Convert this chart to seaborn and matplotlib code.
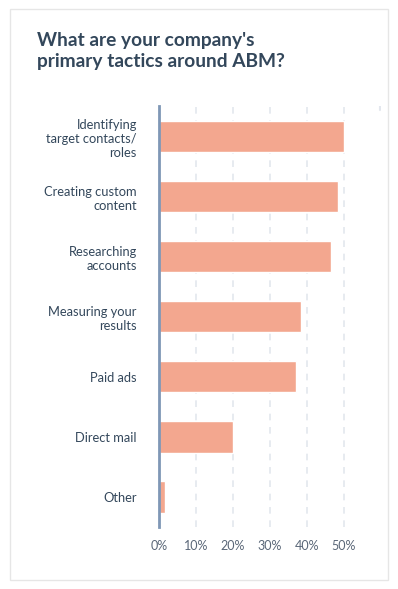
import pandas as pd
import matplotlib
matplotlib.use('Agg')
import matplotlib.pyplot as plt
import seaborn as sns
from matplotlib.patches import Rectangle

# data
tactics = [
    'Identifying\ntarget contacts/\nroles',
    'Creating custom\ncontent',
    'Researching\naccounts',
    'Measuring your\nresults',
    'Paid ads',
    'Direct mail',
    'Other',
]
share = [50.0, 48.5, 46.5, 38.5, 37.0, 20.0, 1.6]
x_ticks = [0, 10, 20, 30, 40, 50]
x_labels = ['0%', '10%', '20%', '30%', '40%', '50%']
x_max = 60

title = "What are your company's\nprimary tactics around ABM?"

navy = '#33475b'
bar_color = '#f3a78f'
spine_color = '#7f97b6'
grid_color = '#e3e7ee'
tick_color = '#5a6778'

df = pd.DataFrame({'tactic': tactics, 'share': share})

sns.set_theme(style='white')
plt.rcParams['font.family'] = ['Lato', 'DejaVu Sans']

W, H = 398, 589
fig = plt.figure(figsize=(W / 100, H / 100), dpi=100)
fig.patch.set_facecolor('white')

# card border
fig.patches.append(Rectangle((10 / W, 1 - 580 / H), 378 / W, 571 / H,
                             transform=fig.transFigure, fill=False,
                             edgecolor='#e6e6e6', linewidth=1))

ax = fig.add_axes([159 / W, 1 - 527 / H, 222 / W, 421 / H])
sns.barplot(data=df, x='share', y='tactic', color=bar_color, width=0.52,
            saturation=1, ax=ax, orient='h')

ax.set_xlim(0, x_max)
ax.set_ylim(6.5, -0.51)
ax.set_xticks(x_ticks)
ax.set_xticklabels(x_labels)
for x in x_ticks[1:]:
    ax.axvline(x, color=grid_color, linestyle=(0, (4, 4)), linewidth=1.2, zorder=0)
# only a stub of the last gridline shows at the top
ax.axvline(x_max - 0.15, ymin=0.99, color=grid_color, linewidth=1.5, zorder=0)

ax.set_xlabel('')
ax.set_ylabel('')
for s in ['top', 'right', 'bottom']:
    ax.spines[s].set_visible(False)
ax.spines['left'].set_color(spine_color)
ax.spines['left'].set_linewidth(2)

ax.tick_params(axis='x', length=0, pad=9, labelsize=9, labelcolor=tick_color)
ax.tick_params(axis='y', length=0, pad=16, labelsize=9.3, labelcolor=navy)
for lbl in ax.get_yticklabels():
    lbl.set_linespacing(1.2)
    lbl.set_horizontalalignment('right')

fig.text(37 / W, 1 - 32 / H, title, ha='left', va='top', fontsize=13.8,
         fontweight='bold', color=navy, linespacing=1.25)

fig.savefig('out.png', dpi=100, facecolor='white')
